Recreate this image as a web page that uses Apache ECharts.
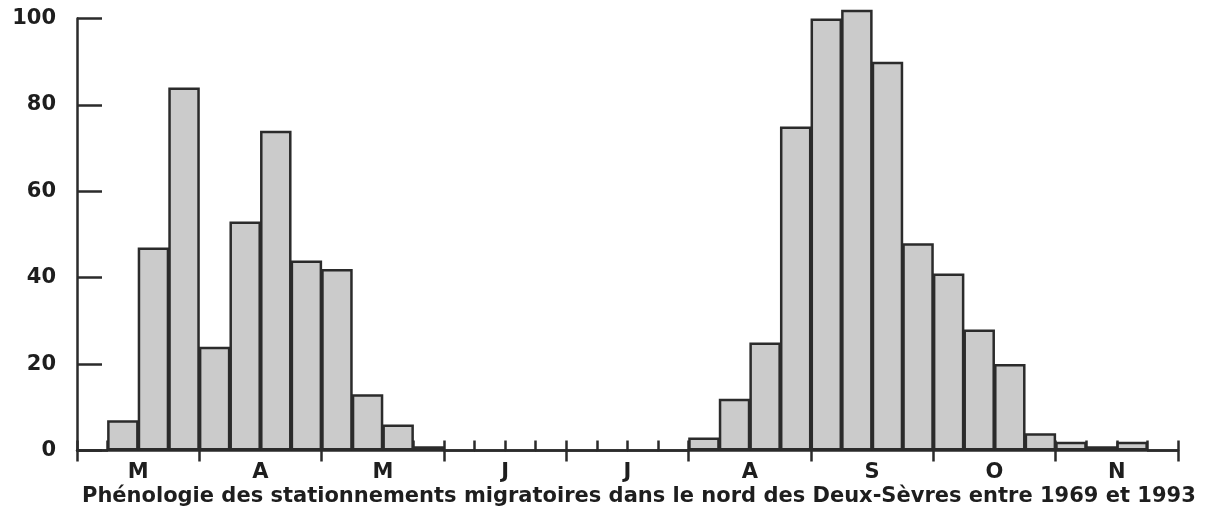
<!DOCTYPE html>
<html>
<head>
<meta charset="utf-8">
<style>
  html, body { margin: 0; padding: 0; background: #fff; }
  #chart { width: 1209px; height: 506px; }
</style>
<script src="https://cdn.jsdelivr.net/npm/echarts@6/dist/echarts.min.js"></script>
</head>
<body>
<div id="chart"></div>
<script>
// four slots per month, March to November
const months = ["M", "A", "M", "J", "J", "A", "S", "O", "N"];
const slots = [
  "M1", "M2", "M3", "M4", "A1", "A2", "A3", "A4", "M1", "M2", "M3", "M4",
  "J1", "J2", "J3", "J4", "J1", "J2", "J3", "J4", "A1", "A2", "A3", "A4",
  "S1", "S2", "S3", "S4", "O1", "O2", "O3", "O4", "N1", "N2", "N3", "N4"
];
const counts = [
  0, 7, 47, 84, 24, 53, 74, 44, 42, 13, 6, 1,
  0, 0, 0, 0, 0, 0, 0, 0, 3, 12, 25, 75,
  100, 102, 90, 48, 41, 28, 20, 4, 2, 1, 2, 0
];
const yTicks = [0, 20, 40, 60, 80, 100];
const caption = "Phénologie des stationnements migratoires dans le nord des Deux-Sèvres entre 1969 et 1993";

const ink = "#2b2b2b";
const font = "DejaVu Sans";

const chart = echarts.init(document.getElementById("chart"));
chart.setOption({
  animation: false,
  title: {
    text: caption,
    left: 77,
    top: 481,
    textStyle: { fontFamily: font, fontWeight: "bold", fontSize: 21, color: "#1e1e1e" },
  },
  grid: { left: 77, right: 31, top: 18.5, bottom: 55.5 },
  xAxis: [
    {
      type: "category",
      data: slots,
      boundaryGap: true,
      axisLine: { lineStyle: { color: ink, width: 2.5 } },
      axisTick: { show: true, inside: true, length: 10, interval: 0, lineStyle: { color: ink, width: 2.5 } },
      axisLabel: { show: false },
    },
    {
      type: "category",
      data: months,
      position: "bottom",
      boundaryGap: true,
      axisLine: { show: false },
      axisTick: { show: true, inside: false, length: 11, interval: 0, lineStyle: { color: ink, width: 2.5 } },
      axisLabel: {
        margin: 12,
        fontFamily: font,
        fontWeight: "bold",
        fontSize: 21,
        color: "#1e1e1e",
      },
    },
  ],
  yAxis: {
    type: "value",
    min: 0,
    max: 100,
    interval: 20,
    axisLine: { show: true, lineStyle: { color: ink, width: 2.5 } },
    axisTick: { show: true, inside: true, length: 25, lineStyle: { color: ink, width: 2.5 } },
    splitLine: { show: false },
    axisLabel: {
      margin: 21,
      fontFamily: font,
      fontWeight: "bold",
      fontSize: 21,
      color: "#1e1e1e",
      formatter: (v) => (yTicks.includes(v) ? String(v) : ""),
    },
  },
  series: [
    {
      type: "bar",
      xAxisIndex: 0,
      data: counts,
      clip: false,
      barWidth: 31.5,
      itemStyle: { color: "#cbcbcb", borderColor: ink, borderWidth: 2.5 },
    },
  ],
});
</script>
</body>
</html>
